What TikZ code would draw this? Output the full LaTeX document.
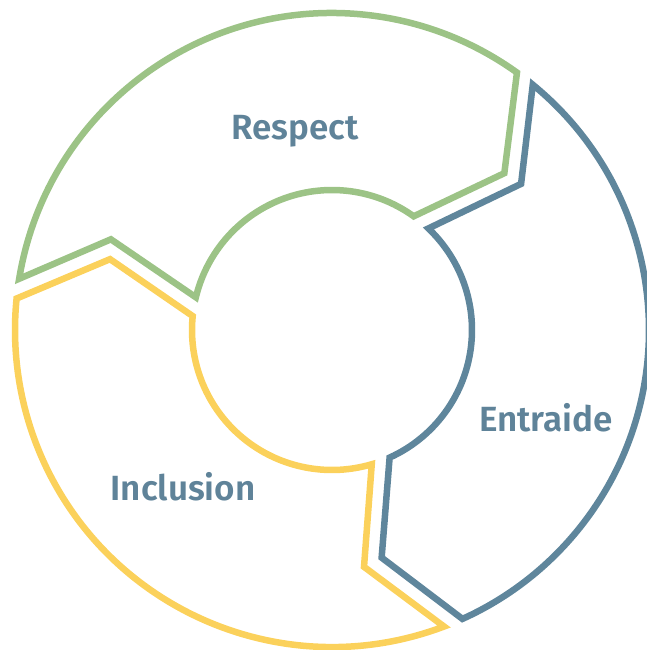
\documentclass[tikz,border=0pt]{standalone}
\usepackage{fontspec}
\newfontfamily\labelfont{Fira Sans}[UprightFont=* SemiBold]
\definecolor{ringgreen}{HTML}{9CC386}
\definecolor{ringblue}{HTML}{5F869C}
\definecolor{ringyellow}{HTML}{FBD15B}
\definecolor{labelblue}{HTML}{5F8399}
\begin{document}
\begin{tikzpicture}[segment/.style={line width=6.5pt},
				label text/.style={font=\labelfont\fontsize{35}{42}\selectfont,text=labelblue,inner sep=0pt}]
\useasboundingbox (-332pt,-320pt) rectangle (314pt,330pt);
% the three arrows of the ring
\foreach \h/\c in {54.3/ringgreen,-65.7/ringblue,-185.7/ringyellow}{
	\draw[segment,draw=\c] (\h+116.4:317pt) arc[start angle=\h+116.4, end angle=\h, radius=317pt]
		-- (\h-12:233pt) -- (\h:140pt)
		arc[start angle=\h, end angle=\h+112.2, radius=140pt]
		-- (\h+103.4:239pt) -- cycle;
}
\node[label text] (respect) at (-37pt,199pt) {Respect};
\node[label text] (entraide) at (214pt,-88pt) {Entraide};
\node[label text] (inclusion) at (-149pt,-157pt) {Inclusion};
\end{tikzpicture}
\end{document}
